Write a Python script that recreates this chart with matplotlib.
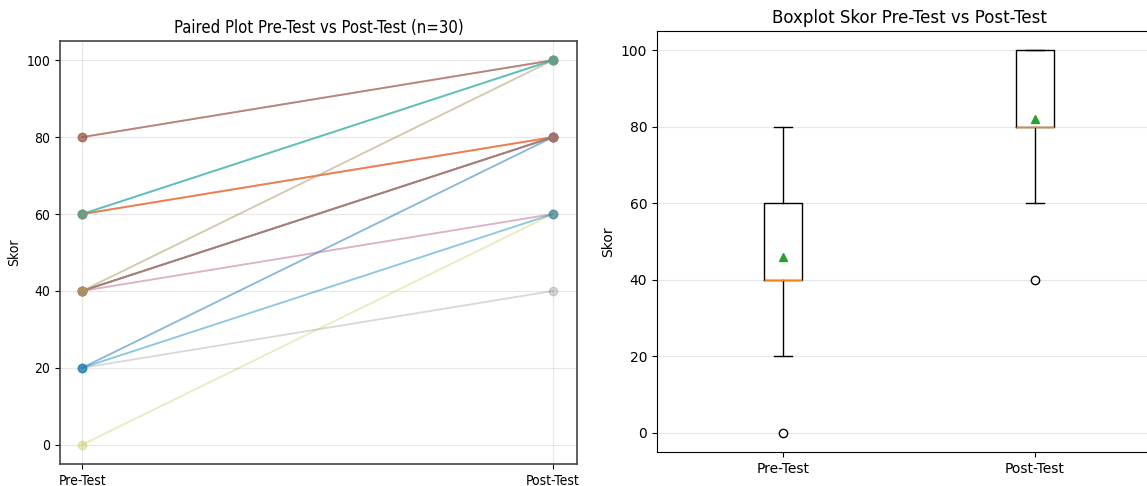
import matplotlib
matplotlib.use("Agg")
import matplotlib.pyplot as plt
import numpy as np

# Data: 30 paired subjects (pre, post)
pre_scores = [20, 60, 60, 60, 80, 40, 40, 20, 0, 20,
              20, 80, 40, 60, 40, 80, 40, 60, 40, 60,
              20, 60, 40, 40, 40, 80, 40, 40, 40, 60]
post_scores = [80, 80, 100, 80, 100, 60, 60, 40, 60, 60,
               60, 100, 80, 80, 80, 100, 80, 100, 80, 100,
               80, 80, 80, 80, 100, 100, 80, 80, 100, 100]
group_labels = ["Pre-Test", "Post-Test"]

fig = plt.figure(figsize=(11.47, 4.86), dpi=100)

# Left: paired plot
ax1 = fig.add_axes([0.0523, 0.0453, 0.4507, 0.8703])
colors = plt.rcParams['axes.prop_cycle'].by_key()['color']
for i, (a, b) in enumerate(zip(pre_scores, post_scores)):
    ax1.plot([0, 1], [a, b], '-o', color=colors[i % 10], alpha=0.3,
             linewidth=1.3, markersize=6)
ax1.set_xticks([0, 1])
ax1.set_xticklabels(group_labels, fontstretch='condensed')
ax1.set_xlim(-0.047, 1.051)
ax1.set_ylim(-5, 105)
ax1.grid(True, alpha=0.3)
ax1.set_ylabel("Skor", fontstretch='condensed')
ax1.set_title("Paired Plot Pre-Test vs Post-Test (n=30)", fontsize=12,
              fontstretch='condensed')
for lab in ax1.get_yticklabels():
    lab.set_fontstretch('condensed')
for s in ax1.spines.values():
    s.set_color('#444444')
    s.set_linewidth(1.2)

# Right: boxplot
ax2 = fig.add_axes([0.5728, 0.07, 0.4394, 0.866])
ax2.boxplot([pre_scores, post_scores], showmeans=True)
ax2.set_xticks([1, 2])
ax2.set_xticklabels(group_labels)
ax2.set_xlim(0.5, 2.5)
ax2.set_ylim(-5, 105)
ax2.grid(True, axis='y', alpha=0.3)
ax2.set_ylabel("Skor")
ax2.set_title("Boxplot Skor Pre-Test vs Post-Test", fontsize=12)

fig.savefig("out.png", dpi=100)
